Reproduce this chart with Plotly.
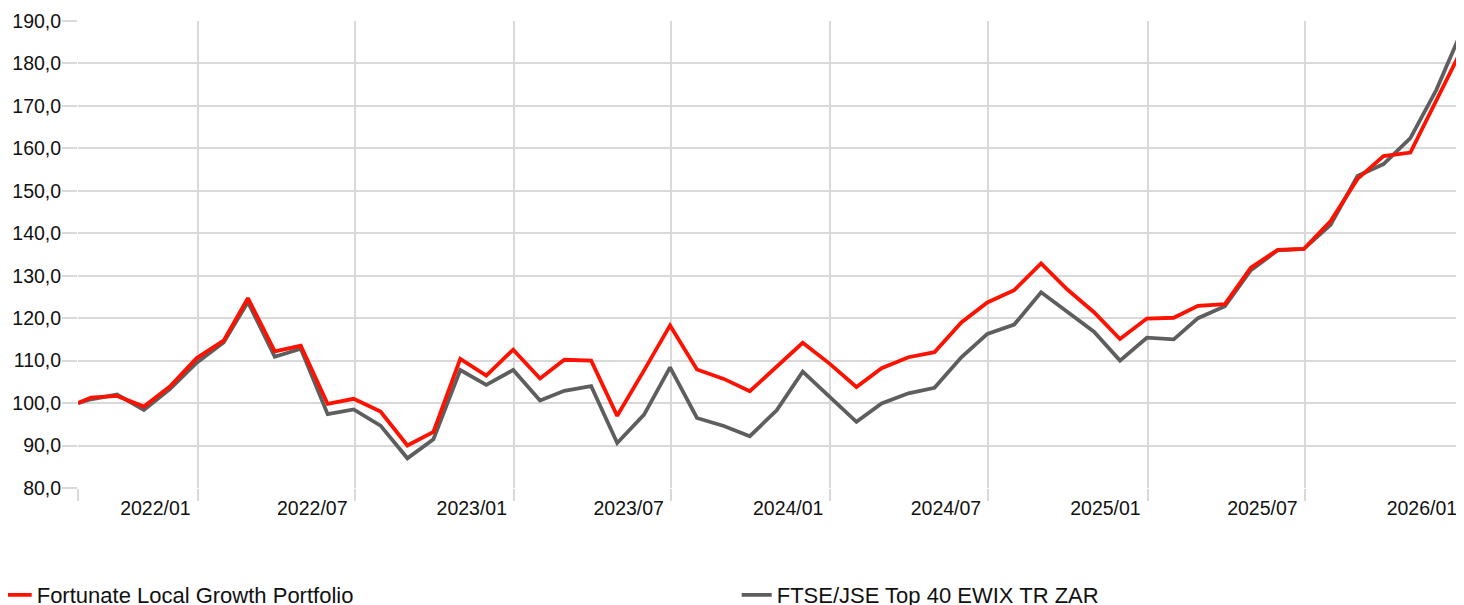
import plotly.graph_objects as go

dates = [
    "2021-08-16", "2021-08-31", "2021-09-30", "2021-10-31", "2021-11-30", "2021-12-31",
    "2022-01-31", "2022-02-28", "2022-03-31", "2022-04-30", "2022-05-31", "2022-06-30",
    "2022-07-31", "2022-08-31", "2022-09-30", "2022-10-31", "2022-11-30", "2022-12-31",
    "2023-01-31", "2023-02-28", "2023-03-31", "2023-04-30", "2023-05-31", "2023-06-30",
    "2023-07-31", "2023-08-31", "2023-09-30", "2023-10-31", "2023-11-30", "2023-12-31",
    "2024-01-31", "2024-02-29", "2024-03-31", "2024-04-30", "2024-05-31", "2024-06-30",
    "2024-07-31", "2024-08-31", "2024-09-30", "2024-10-31", "2024-11-30", "2024-12-31",
    "2025-01-31", "2025-02-28", "2025-03-31", "2025-04-30", "2025-05-31", "2025-06-30",
    "2025-07-31", "2025-08-31", "2025-09-30", "2025-10-31", "2025-11-30", "2025-12-31",
]

portfolio = [
    100.0, 101.3, 101.7, 99.2, 103.9, 110.6,
    114.7, 124.7, 112.2, 113.5, 99.8, 101.0,
    98.0, 90.0, 93.2, 110.4, 106.5, 112.6,
    105.8, 110.2, 110.0, 97.0, 107.7, 118.3,
    107.9, 105.7, 102.8, 108.6, 114.2, 109.3,
    103.8, 108.2, 110.8, 112.0, 119.0, 123.7,
    126.6, 132.9, 126.8, 121.4, 115.1, 119.9,
    120.1, 122.9, 123.3, 131.9, 136.1, 136.3,
    142.9, 152.8, 158.2, 159.0, 171.5, 184.0,
]

benchmark = [
    100.0, 100.9, 102.0, 98.4, 103.3, 109.5,
    114.3, 123.8, 110.9, 112.8, 97.4, 98.5,
    94.7, 87.0, 91.5, 107.8, 104.3, 107.8,
    100.6, 102.9, 104.0, 90.6, 97.3, 108.4,
    96.5, 94.6, 92.2, 98.3, 107.4, 101.5,
    95.6, 99.9, 102.3, 103.6, 110.8, 116.3,
    118.5, 126.1, 121.4, 116.8, 110.0, 115.4,
    115.0, 120.0, 122.8, 131.3, 136.0, 136.3,
    142.0, 153.5, 156.3, 162.4, 173.8, 188.5,
]

series_names = ["Fortunate Local Growth Portfolio", "FTSE/JSE Top 40 EWIX TR ZAR"]

tick_dates = ["2021-08-16", "2022-01-01", "2022-07-01", "2023-01-01", "2023-07-01",
              "2024-01-01", "2024-07-01", "2025-01-01", "2025-07-01", "2026-01-01"]
tick_labels = ["", "2022/01", "2022/07", "2023/01", "2023/07",
               "2024/01", "2024/07", "2025/01", "2025/07", "2026/01"]

x_range = ["2021-08-16", "2026-01-17"]

RED = "#ff1100"
GRAY = "#5e5e5e"
GRID = "#d9d9d9"
FONT = "Liberation Sans, Arial, sans-serif"
TXT = "#111111"

W, H = 1470, 597
L, T, PB = 70, 13, 480
PW = W - L

fig = go.Figure()
fig.add_trace(go.Scatter(x=dates, y=benchmark, mode="lines", name=series_names[1],
                         line=dict(color=GRAY, width=3.8), legend="legend2"))
fig.add_trace(go.Scatter(x=dates, y=portfolio, mode="lines", name=series_names[0],
                         line=dict(color=RED, width=3.8), legend="legend"))

leg_common = dict(
    orientation="h", xref="paper", yref="container",
    xanchor="left", yanchor="middle",
    font=dict(family=FONT, size=22, color=TXT),
    bgcolor="rgba(0,0,0,0)",
)

fig.update_layout(
    width=W, height=H,
    margin=dict(l=L, r=0, t=T, b=H - PB, autoexpand=False),
    paper_bgcolor="white", plot_bgcolor="white",
    separators=", ",
    font=dict(family=FONT, size=19.5, color=TXT),
    showlegend=True,
    legend=dict(x=(-11.3 - L) / PW, y=10 / H, **leg_common),
    legend2=dict(x=(728.7 - L) / PW, y=10 / H, **leg_common),
    xaxis=dict(
        type="date", range=x_range,
        tickmode="array", tickvals=tick_dates, ticktext=tick_labels,
        ticklabelposition="outside left", ticklabelshift=-6, ticklabelstandoff=3,
        showgrid=True, gridcolor=GRID, gridwidth=2,
        ticks="outside", ticklen=12, tickwidth=2, tickcolor=GRID,
        showline=False, zeroline=False,
        tickfont=dict(family=FONT, size=19.5, color=TXT),
    ),
    yaxis=dict(
        range=[80, 190], dtick=10, tick0=80, tickformat=".1f",
        ticklabelstandoff=-3,
        showgrid=True, gridcolor=GRID, gridwidth=2,
        ticks="outside", ticklen=15, tickwidth=2, tickcolor=GRID,
        showline=False, zeroline=False,
        tickfont=dict(family=FONT, size=19.5, color=TXT),
    ),
)

fig.write_html("out.html")
